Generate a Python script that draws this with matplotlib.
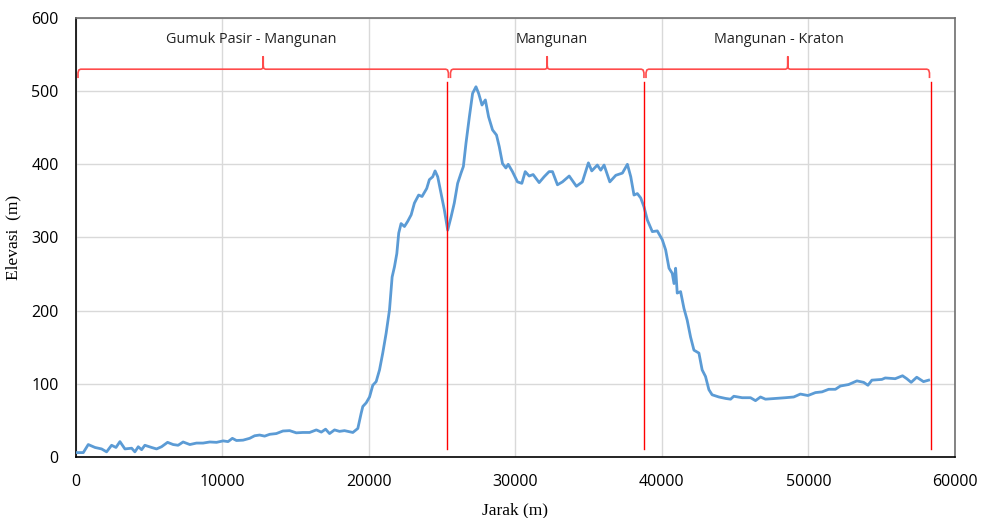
import numpy as np
import matplotlib
matplotlib.use("Agg")
import matplotlib.pyplot as plt

# elevation profile (distance m, elevation m)
jarak = [0, 530, 870, 1330, 1780, 2120, 2460, 2760, 3030, 3370, 3830, 4050, 4280, 4510,
         4730, 5190, 5530, 5870, 6280, 6660, 7000, 7340, 7800, 8250, 8700, 9160, 9620,
         10070, 10410, 10700, 10980, 11430, 11880, 12220, 12560, 12900, 13250, 13700,
         14150, 14610, 15060, 15510, 15970, 16430, 16770, 17060, 17330, 17670, 18010,
         18350, 18920, 19260, 19490, 19600, 19830, 20060, 20280, 20510, 20740, 20960,
         21190, 21420, 21600, 21760, 21920, 22050, 22210, 22440, 22660, 22900, 23120,
         23410, 23640, 23960, 24140, 24370, 24530, 24710, 24940, 25160, 25390, 25620,
         25840, 26070, 26300, 26460, 26640, 26870, 27090, 27320, 27500, 27730, 27960,
         28180, 28450, 28720, 28910, 29130, 29360, 29520, 29810, 30150, 30450, 30680,
         30950, 31220, 31630, 31970, 32310, 32540, 32880, 33220, 33680, 34170, 34580,
         34990, 35220, 35600, 35830, 36060, 36450, 36860, 37310, 37650, 37880, 38100,
         38330, 38560, 38780, 39010, 39350, 39690, 40030, 40260, 40490, 40710, 40830,
         40940, 41050, 41280, 41510, 41730, 41960, 42190, 42530, 42750, 42980, 43210,
         43430, 43890, 44350, 44690, 44910, 45480, 46050, 46390, 46730, 47070, 47750,
         48430, 49000, 49450, 49970, 50480, 50930, 51380, 51840, 52180, 52740, 53310,
         53770, 54060, 54330, 55010, 55240, 55920, 56420, 56710, 57010, 57390, 57850,
         58200]
elevasi = [6, 6, 17, 13, 11, 7, 16, 13, 21, 11, 12, 7, 14, 10,
           16, 13, 11, 14, 20, 17, 16, 20.5, 17, 19, 19, 20.5, 20,
           22, 21, 25.5, 22.5, 23, 25.5, 29, 30, 28.5, 31, 32,
           35.5, 36, 33, 33.5, 33.5, 37, 34, 38, 32, 37, 35,
           36, 33.5, 39, 60, 69, 74, 82, 98, 103, 119, 142,
           169, 201, 246, 260, 278, 306, 319, 315, 322, 331, 347,
           358, 356, 367, 379, 383, 391, 383, 360, 338, 310, 328,
           347, 374, 388, 397, 429, 465, 497, 506, 497, 481, 488,
           465, 447, 440, 424, 401, 395, 400, 390, 376, 374, 390,
           384, 386, 375, 383, 390, 390, 372, 376, 384, 370, 376,
           402, 391, 399, 392, 399, 376, 385, 388, 400, 383, 358,
           360, 354, 342, 324, 308, 309, 297, 283, 258, 251, 237,
           258, 224, 226, 203, 187, 164, 146, 142, 119, 110, 92,
           85, 82, 80, 79, 83, 81, 81, 77, 82, 79, 80,
           81, 82, 86, 84, 88, 89, 92.5, 92.5, 97, 99, 104,
           102, 98, 105, 106, 108, 107, 111, 107, 102, 109, 103,
           105]

# route segments
batas = [25320, 38780, 58370]
segmen_awal = [170, 25580, 38920]
segmen_akhir = [25440, 38780, 58260]
segmen_label = ["Gumuk Pasir - Mangunan", "Mangunan", "Mangunan - Kraton"]
label_x = [12020, 32520, 47980]

fig = plt.figure(figsize=(9.82, 5.18), dpi=100)
ax = fig.add_axes([0.0769, 0.1178, 0.8956, 0.8475])

ax.plot(jarak, elevasi, color="#5B9BD5", lw=2, zorder=3)

# vertical separators
for xb in batas:
    ax.plot([xb, xb], [11, 512], color="#FF0000", lw=1, zorder=4)

# curly brackets over each segment
yb, ye, yt = 530, 519, 547
for x1, x2, lab, lx in zip(segmen_awal, segmen_akhir, segmen_label, label_x):
    xc = (x1 + x2) / 2
    bx = [x1, x1, x1 + 60, x1 + 180, xc - 150, xc - 40, xc, xc, xc, xc + 40, xc + 150,
          x2 - 180, x2 - 60, x2, x2]
    by = [ye, ye + 6, ye + 10, yb, yb, yb + 1, yb + 5, yt, yb + 5, yb + 1, yb,
          yb, ye + 10, ye + 6, ye]
    ax.plot(bx, by, color="#FF4B4B", lw=1.2, zorder=4)
    ax.text(lx, 571, lab, ha="center", va="center", fontsize=10.4,
            family="Open Sans", color="#222222")

ax.set_xlim(0, 60000)
ax.set_ylim(0, 600)
ax.set_xticks(np.arange(0, 60001, 10000))
ax.set_yticks(np.arange(0, 601, 100))
ax.grid(True, color="#D9D9D9", lw=1)
ax.set_axisbelow(True)
ax.tick_params(length=0, labelsize=11.5)
ax.tick_params(axis="x", pad=12)
ax.tick_params(axis="y", pad=12)
for t in ax.get_xticklabels() + ax.get_yticklabels():
    t.set_family("Open Sans")

for side in ["top", "right"]:
    ax.spines[side].set_color("#6F6F6F")
for side in ["left", "bottom"]:
    ax.spines[side].set_color("#000000")
for s in ax.spines.values():
    s.set_linewidth(1.2)

ax.set_xlabel("Jarak (m)", family="Liberation Serif", fontsize=12.5, labelpad=9)
ax.set_ylabel("Elevasi  (m)", family="Liberation Serif", fontsize=12.5, labelpad=7)

fig.savefig("out.png", dpi=100)
